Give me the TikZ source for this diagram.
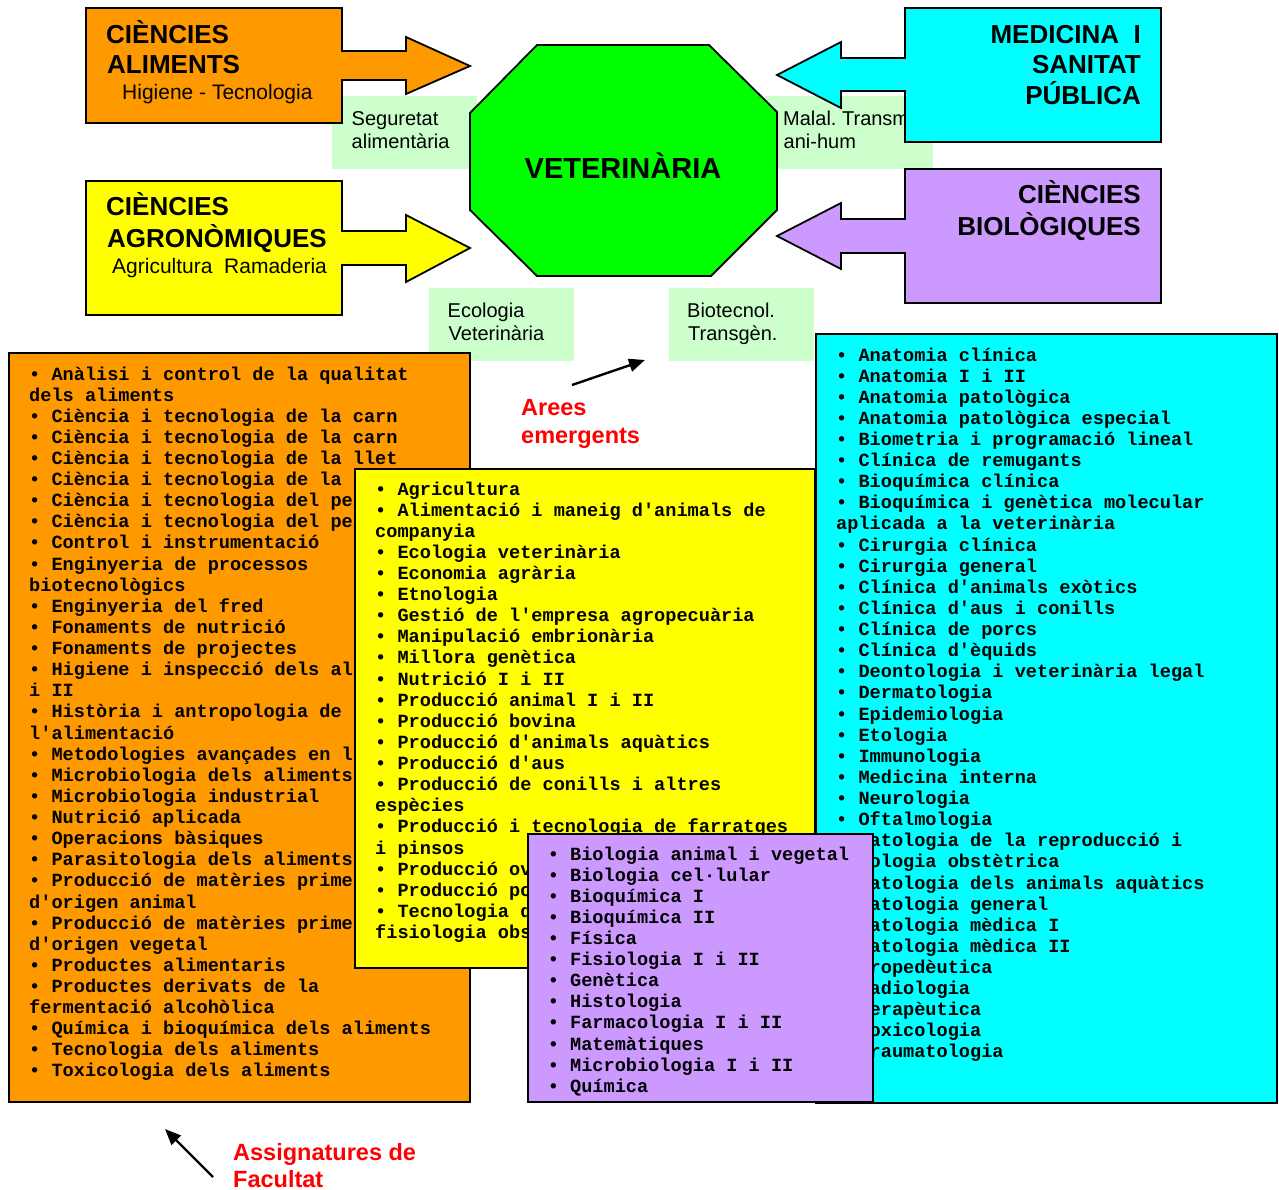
\documentclass[tikz,border=0pt]{standalone}
\usepackage{fontspec}
\setmainfont{Liberation Sans}
\setmonofont{Liberation Mono}
\usetikzlibrary{arrows.meta}
\definecolor{taronja}{HTML}{FF9900}
\definecolor{groc}{HTML}{FFFF00}
\definecolor{cian}{HTML}{00FFFF}
\definecolor{lila}{HTML}{CC99FF}
\definecolor{verd}{HTML}{00FF00}
\definecolor{verdclar}{HTML}{CCFFCC}
\definecolor{vermell}{HTML}{FF0000}
\frenchspacing

\begin{document}
\begin{tikzpicture}[x=1pt, y=-1pt, >={Triangle[length=16pt,width=13pt]},
  capsa/.style={draw=black, line width=1.8pt},
  etiq/.style={fill=verdclar},
  titol/.style={font=\fontsize{26}{30}\selectfont\bfseries, inner sep=0pt},
  subtitol/.style={font=\fontsize{21}{25}\selectfont, inner sep=0pt, anchor=base west},
  rotul/.style={font=\fontsize{20}{23}\selectfont, inner sep=0pt, anchor=base west},
  llista/.style={font=\ttfamily\bfseries\fontsize{18.6}{21}\selectfont, inner sep=0pt, anchor=base west},
  avis/.style={text=vermell, font=\fontsize{23.5}{28}\selectfont\bfseries, inner sep=0pt, anchor=base west}]
  \useasboundingbox (0,0) rectangle (1279,1189);

  % arees emergents (fons verd clar)
  \fill[etiq] (332,96) rectangle (477,169);
  \node[rotul] (seg1) at (351.5,125) {Seguretat};
  \node[rotul] (seg2) at (351.5,148) {alimentària};
  \fill[etiq] (765,96) rectangle (933,169);
  \node[rotul] (mal1) at (783,125) {Malal. Transm};
  \node[rotul] (mal2) at (783.5,148) {ani-hum};
  \fill[etiq] (429,288) rectangle (574,361);
  \node[rotul] (eco1) at (447.5,317) {Ecologia};
  \node[rotul] (eco2) at (448.5,340) {Veterinària};
  \fill[etiq] (669,288) rectangle (814,361);
  \node[rotul] (bio1) at (687,317) {Biotecnol.};
  \node[rotul] (bio2) at (688,340) {Transgèn.};

  % fletxes de les ciencies
  \draw[capsa, fill=taronja] (86,8) -- (342,8) -- (342,51) -- (406,51) -- (406,37) -- (470,66)
    -- (406,94) -- (406,80) -- (342,80) -- (342,123) -- (86,123) -- cycle;
  \node[titol, anchor=base west] (capAl1) at (106,43) {CIÈNCIES};
  \node[titol, anchor=base west] (capAl2) at (107,73) {ALIMENTS};
  \node[subtitol] (capAl3) at (122,99) {Higiene - Tecnologia};

  \draw[capsa, fill=groc] (86,181) -- (342,181) -- (342,231) -- (406,231) -- (406,215) -- (470,248)
    -- (406,282) -- (406,265) -- (342,265) -- (342,315) -- (86,315) -- cycle;
  \node[titol, anchor=base west] (capAg1) at (106,215) {CIÈNCIES};
  \node[titol, anchor=base west] (capAg2) at (107,247) {AGRONÒMIQUES};
  \node[subtitol] (capAg3) at (112,273) {Agricultura\ \ Ramaderia};

  \draw[capsa, fill=cian] (1161,8) -- (905,8) -- (905,58) -- (841,58) -- (841,42) -- (777,75)
    -- (841,108) -- (841,91) -- (905,91) -- (905,142) -- (1161,142) -- cycle;
  \node[titol, anchor=base east] (capMe1) at (1141,43) {MEDICINA\ \ I};
  \node[titol, anchor=base east] (capMe2) at (1141,73.5) {SANITAT};
  \node[titol, anchor=base east] (capMe3) at (1141,104) {PÚBLICA};

  \draw[capsa, fill=lila] (1161,169) -- (905,169) -- (905,219) -- (841,219) -- (841,203) -- (777,236)
    -- (841,269) -- (841,253) -- (905,253) -- (905,303) -- (1161,303) -- cycle;
  \node[titol, anchor=base east] (capBi1) at (1141,203) {CIÈNCIES};
  \node[titol, anchor=base east] (capBi2) at (1141,235) {BIOLÒGIQUES};

  % octagon central
  \draw[capsa, fill=verd] (537,45) -- (709,45) -- (777,112) -- (777,210) -- (711,276)
    -- (537,276) -- (470,210) -- (470,113) -- cycle;
  \node[font=\fontsize{29}{34}\selectfont\bfseries, inner sep=0pt, anchor=base] (vet) at (623,178) {VETERINÀRIA};

  % llistes d'assignatures
  \draw[capsa, fill=taronja] (9,353) rectangle (470,1102);
  \foreach \t [count=\i] in {• Anàlisi i control de la qualitat, dels aliments,
      • Ciència i tecnologia de la carn, • Ciència i tecnologia de la carn,
      • Ciència i tecnologia de la llet, • Ciència i tecnologia de la,
      • Ciència i tecnologia del peix, • Ciència i tecnologia del peix,
      • Control i instrumentació, • Enginyeria de processos, biotecnològics,
      • Enginyeria del fred, • Fonaments de nutrició, • Fonaments de projectes,
      • Higiene i inspecció dels aliments I, i II, • Història i antropologia de,
      l'alimentació, • Metodologies avançades en l, • Microbiologia dels aliments,
      • Microbiologia industrial, • Nutrició aplicada, • Operacions bàsiques,
      • Parasitologia dels aliments, • Producció de matèries primeres, d'origen animal,
      • Producció de matèries primeres, d'origen vegetal, • Productes alimentaris,
      • Productes derivats de la, fermentació alcohòlica,
      • Química i bioquímica dels aliments, • Tecnologia dels aliments,
      • Toxicologia dels aliments}
    \node[llista] (al\i) at (29,{380+21.12*(\i-1)}) {\t};

  \draw[capsa, fill=cian] (816,334) rectangle (1277,1103);
  \foreach \t [count=\i] in {• Anatomia clínica, • Anatomia I i II, • Anatomia patològica,
      • Anatomia patològica especial, • Biometria i programació lineal,
      • Clínica de remugants, • Bioquímica clínica, • Bioquímica i genètica molecular,
      aplicada a la veterinària, • Cirurgia clínica, • Cirurgia general,
      • Clínica d'animals exòtics, • Clínica d'aus i conills, • Clínica de porcs,
      • Clínica d'èquids, • Deontologia i veterinària legal, • Dermatologia,
      • Epidemiologia, • Etologia, • Immunologia, • Medicina interna, • Neurologia,
      • Oftalmologia, • Patologia de la reproducció i, tocologia obstètrica,
      • Patologia dels animals aquàtics, • Patologia general, • Patologia mèdica I,
      • Patologia mèdica II, • Propedèutica, • Radiologia, • Terapèutica,
      • Toxicologia, • Traumatologia}
    \node[llista] (me\i) at (836,{361+21.12*(\i-1)}) {\t};

  \draw[capsa, fill=groc] (355,469) rectangle (815,968);
  \foreach \t [count=\i] in {• Agricultura, • Alimentació i maneig d'animals de, companyia,
      • Ecologia veterinària, • Economia agrària, • Etnologia,
      • Gestió de l'empresa agropecuària, • Manipulació embrionària, • Millora genètica,
      • Nutrició I i II, • Producció animal I i II, • Producció bovina,
      • Producció d'animals aquàtics, • Producció d'aus, • Producció de conills i altres,
      espècies, • Producció i tecnologia de farratges, i pinsos, • Producció ovina,
      • Producció porcina, • Tecnologia de, fisiologia obstètrica}
    \node[llista] (ag\i) at (375,{495+21.12*(\i-1)}) {\t};

  \draw[capsa, fill=lila] (528,834) rectangle (873,1102);
  \foreach \t [count=\i] in {• Biologia animal i vegetal, • Biologia cel·lular, • Bioquímica I,
      • Bioquímica II, • Física, • Fisiologia I i II, • Genètica, • Histologia,
      • Farmacologia I i II, • Matemàtiques, • Microbiologia I i II, • Química}
    \node[llista] (bi\i) at (547.6,{860+21.12*(\i-1)}) {\t};

  % rotuls vermells
  \coordinate (areesA) at (572,385);
  \coordinate (areesB) at (645,360);
  \draw[->, line width=2.4pt] (areesA) -- (areesB);
  \node[avis] (arees1) at (521,415) {Arees};
  \node[avis] (arees2) at (521,443) {emergents};
  \coordinate (assigA) at (213,1177);
  \coordinate (assigB) at (165,1129);
  \draw[->, line width=2.4pt] (assigA) -- (assigB);
  \node[avis] (assig1) at (233,1160) {Assignatures de};
  \node[avis] (assig2) at (233,1187) {Facultat};
\end{tikzpicture}
\end{document}
